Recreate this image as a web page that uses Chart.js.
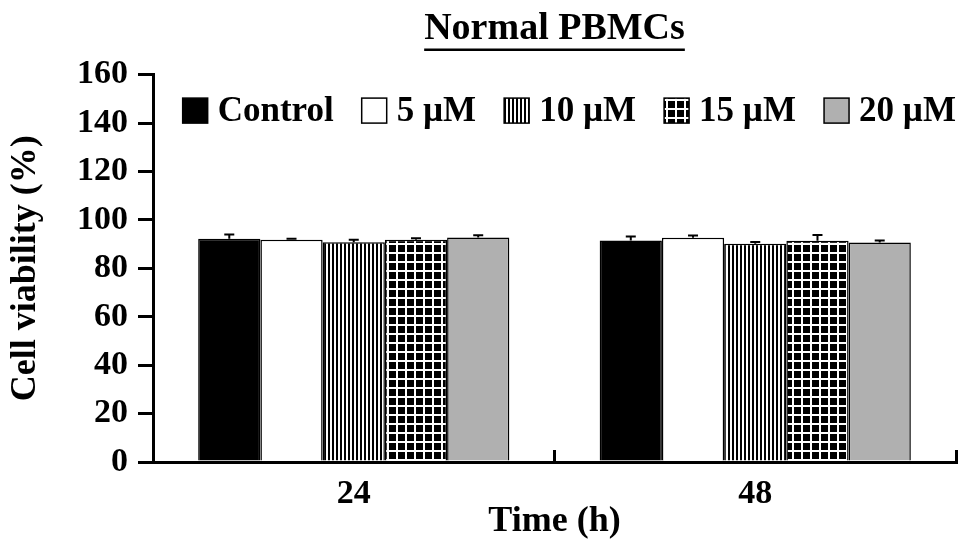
<!DOCTYPE html>
<html>
<head>
<meta charset="utf-8">
<script src="https://cdn.jsdelivr.net/npm/chart.js@4/dist/chart.umd.min.js"></script>
<style>body{margin:0;background:#fff}canvas{display:block}</style>
</head>
<body>
<canvas id="chart" width="969" height="553"></canvas>
<script>
// values (cell viability, % of untreated)
const times=['24','48'];
const seriesNames=['Control','5 \u00b5M','10 \u00b5M','15 \u00b5M','20 \u00b5M'];
const control=[92.2,91.5], controlErr=[1.8,1.6];
const um5=[91.8,92.6], um5Err=[0.4,0.9];
const um10=[90.8,90.1], um10Err=[1.0,0.8];
const um15=[91.8,91.4], um15Err=[0.6,2.4];
const um20=[92.7,90.7], um20Err=[0.9,0.8];
const yTicks=[0,20,40,60,80,100,120,140,160];

const SERIF='"Liberation Serif","Times New Roman",serif';

function stripes(){
  const c=document.createElement('canvas');c.width=4;c.height=4;
  const g=c.getContext('2d');g.fillStyle='#fff';g.fillRect(0,0,4,4);
  g.fillStyle='#000';g.fillRect(0,0,2,4);
  return g.createPattern(c,'repeat');
}
function grid(){
  const c=document.createElement('canvas');c.width=9;c.height=9;
  const g=c.getContext('2d');g.fillStyle='#000';g.fillRect(0,0,9,9);
  g.fillStyle='#fff';g.fillRect(0,0,2,9);g.fillRect(0,0,9,2);
  return g.createPattern(c,'repeat');
}

const fills=['#000000','#ffffff',stripes(),grid(),'#b0b0b0'];
const vals=[control,um5,um10,um15,um20];
const errs=[controlErr,um5Err,um10Err,um15Err,um20Err];

const errorBars={
  id:'errorBars',
  afterDatasetsDraw(chart){
    const ctx=chart.ctx, y=chart.scales.y;
    ctx.save();ctx.strokeStyle='#000';ctx.lineWidth=2;
    chart.data.datasets.forEach((ds,i)=>{
      chart.getDatasetMeta(i).data.forEach((bar,j)=>{
        const top=y.getPixelForValue(ds.data[j]+ds.err[j]);
        ctx.beginPath();
        ctx.moveTo(bar.x,bar.y);ctx.lineTo(bar.x,top);
        ctx.moveTo(bar.x-5,top);ctx.lineTo(bar.x+5,top);
        ctx.stroke();
      });
    });
    ctx.restore();
  }
};

// one-row legend inside the plot, right aligned (built-in chartArea legend stacks vertically)
const rowLegend={
  id:'rowLegend',
  afterDraw(chart){
    const ctx=chart.ctx, a=chart.chartArea, dss=chart.data.datasets;
    const box=25, gap=10, sep=28, fs=35;
    ctx.save();
    ctx.font='bold '+fs+'px '+SERIF;
    const ws=dss.map(d=>ctx.measureText(d.label).width);
    let total=ws.reduce((s,w)=>s+box+gap+w,0)+sep*(dss.length-1);
    let x=a.right-total;
    const cy=a.top+36;
    ctx.textBaseline='middle';ctx.textAlign='left';
    dss.forEach((d,i)=>{
      ctx.fillStyle=d.backgroundColor;
      ctx.fillRect(x,cy-box/2,box,box);
      ctx.strokeStyle='#000';ctx.lineWidth=1.5;
      ctx.strokeRect(x,cy-box/2,box,box);
      ctx.fillStyle='#000';
      ctx.fillText(d.label,x+box+gap,cy+1);
      x+=box+gap+ws[i]+sep;
    });
    ctx.restore();
  }
};

const underline={
  id:'underline',
  afterDraw(chart){
    const t=chart.titleBlock, o=t.options, ctx=chart.ctx;
    ctx.save();
    ctx.font='bold '+o.font.size+'px '+SERIF;
    const w=ctx.measureText(o.text).width;
    const cx=(t.left+t.right)/2;
    const yy=t.top+o.padding.top+o.font.size*1.2/2+o.font.size*0.55;
    ctx.strokeStyle='#000';ctx.lineWidth=2.5;
    ctx.beginPath();ctx.moveTo(cx-w/2,yy);ctx.lineTo(cx+w/2,yy);ctx.stroke();
    ctx.restore();
  }
};

new Chart(document.getElementById('chart'),{
  type:'bar',
  data:{
    labels:times,
    datasets:seriesNames.map((n,i)=>({
      label:n,data:vals[i],err:errs[i],
      backgroundColor:fills[i],borderColor:'#000',borderWidth:1.5,
      categoryPercentage:0.775,barPercentage:1.0
    }))
  },
  options:{
    responsive:false,animation:false,devicePixelRatio:1,
    layout:{padding:{right:13,left:0,top:0,bottom:0}},
    plugins:{
      title:{display:true,fullSize:false,text:'Normal PBMCs',color:'#000',
        font:{family:SERIF,size:38,weight:'bold'},padding:{top:6,bottom:23}},
      legend:{display:false},
      tooltip:{enabled:false}
    },
    scales:{
      x:{
        grid:{drawOnChartArea:false,tickLength:-12,color:'#000',lineWidth:3,offset:true},
        border:{color:'#000',width:3},
        ticks:{color:'#000',padding:24,font:{family:SERIF,size:34,weight:'bold'}},
        title:{display:true,text:'Time (h)',color:'#000',padding:{top:0,bottom:10},
          font:{family:SERIF,size:36,weight:'bold'}},
        afterFit(s){s.height=91;}
      },
      y:{
        min:0,max:160,
        grid:{drawOnChartArea:false,tickLength:15,color:'#000',lineWidth:3},
        border:{color:'#000',width:3},
        afterBuildTicks(s){s.ticks=yTicks.map(v=>({value:v}));},
        ticks:{color:'#000',padding:10,font:{family:SERIF,size:34,weight:'bold'}},
        title:{display:true,text:'Cell viability (%)',color:'#000',padding:{top:4,bottom:0},
          font:{family:SERIF,size:36,weight:'bold'}},
        afterFit(s){s.width=153;}
      }
    }
  },
  plugins:[errorBars,rowLegend,underline]
});
</script>
</body>
</html>
